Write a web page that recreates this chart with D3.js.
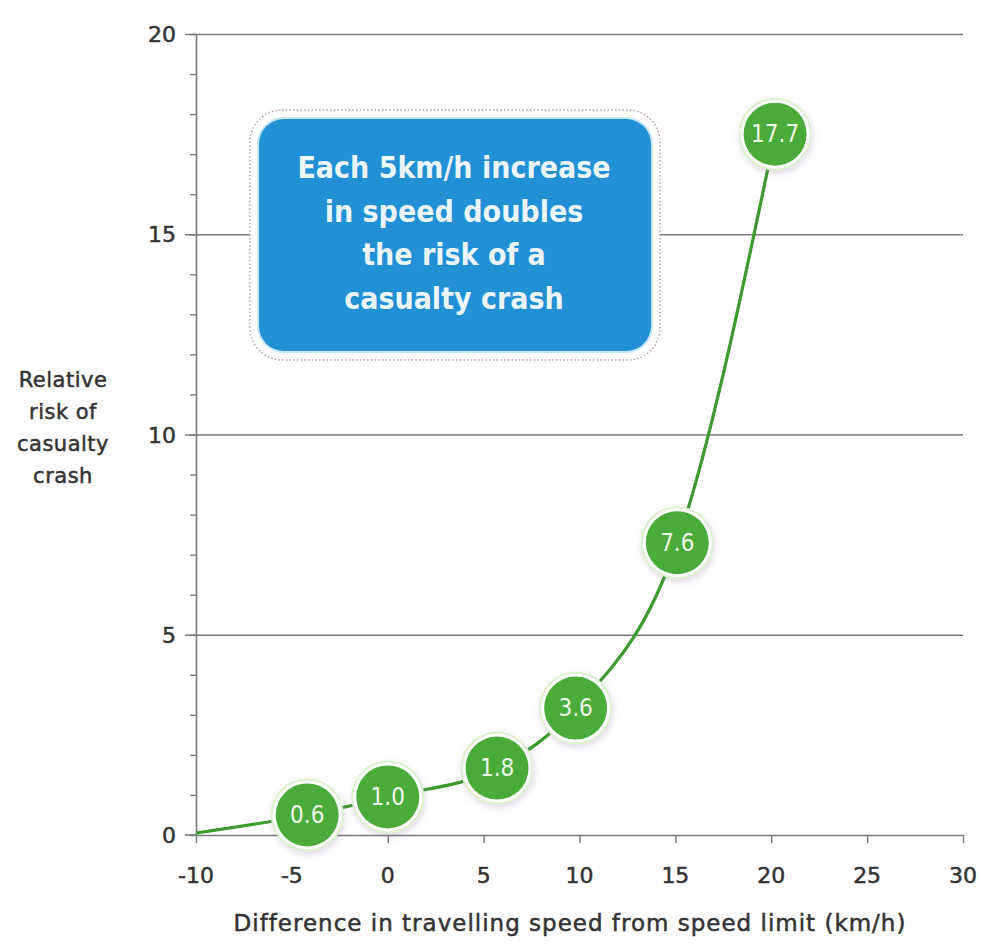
<!DOCTYPE html>
<html>
<head>
<meta charset="utf-8">
<script src="https://cdn.jsdelivr.net/npm/d3@7"></script>
<style>
  body { margin: 0; background: #fff; }
  svg { display: block; }
</style>
</head>
<body>
<div id="chart"></div>
<script>
// values
var speedTicks = [-10, -5, 0, 5, 10, 15, 20, 25, 30];
var riskTicks = [0, 5, 10, 15, 20];
var pointX = [-4.2, 0, 5.7, 9.8, 15.1, 20.2];
var pointY = [0.5, 0.95, 1.67, 3.17, 7.3, 17.5];
var pointLabels = ["0.6", "1.0", "1.8", "3.6", "7.6", "17.7"];
var lineX = [-10, -4.2, 0, 5.7, 9.8, 15.1, 20.2];
var lineY = [0.05, 0.5, 0.95, 1.67, 3.17, 7.3, 17.5];
var noteLines = ["Each 5km/h increase", "in speed doubles", "the risk of a", "casualty crash"];
var yTitle = ["Relative", "risk of", "casualty", "crash"];
var xTitle = "Difference in travelling speed from speed limit (km/h)";

var width = 981, height = 945;
var font = "'DejaVu Sans', sans-serif";
var fontCond = "'DejaVu Sans Condensed', 'DejaVu Sans', sans-serif";
var textCol = "#333";
var axisCol = "#7a7a7a";

var svg = d3.select("#chart").append("svg")
  .attr("width", width).attr("height", height);

var defs = svg.append("defs");
var shadow = defs.append("filter").attr("id", "shadow")
  .attr("x", "-30%").attr("y", "-30%").attr("width", "160%").attr("height", "160%");
shadow.append("feDropShadow").attr("dx", 1).attr("dy", 3).attr("stdDeviation", 3)
  .attr("flood-color", "#8a6a9a").attr("flood-opacity", 0.25);

var x = d3.scaleLinear().domain([-10, 30]).range([196, 963]);
var y = d3.scaleLinear().domain([0, 20]).range([835, 34]);

// gridlines at major values
var grid = svg.append("g").attr("transform", "translate(963,0)")
  .call(d3.axisLeft(y).tickValues(riskTicks.slice(1)).tickSize(963 - 185).tickFormat(""));
grid.select(".domain").remove();
grid.selectAll("line").attr("stroke", axisCol).attr("stroke-width", 1.6);

// y axis with minor ticks
var yAxis = svg.append("g").attr("transform", "translate(196,0)")
  .call(d3.axisLeft(y).ticks(20).tickSize(6).tickFormat("").tickSizeOuter(0));
yAxis.select(".domain").attr("stroke", axisCol).attr("stroke-width", 1.6);
yAxis.selectAll("line").attr("stroke", axisCol).attr("stroke-width", 1.4);
yAxis.append("line").attr("x1", -11).attr("x2", 0).attr("y1", y(0)).attr("y2", y(0))
  .attr("stroke", axisCol).attr("stroke-width", 1.6);

function heavy(sel) {
  return sel.attr("stroke", textCol).attr("stroke-width", 0.5);
}

heavy(svg.append("g").selectAll("text").data(riskTicks).enter().append("text")
  .attr("x", 176).attr("y", function(d) { return y(d) + 8; })
  .attr("text-anchor", "end").attr("font-family", font).attr("font-size", "22px")
  .attr("fill", textCol).text(function(d) { return d; }));

// x axis
var xAxis = svg.append("g").attr("transform", "translate(0," + y(0) + ")")
  .call(d3.axisBottom(x).tickValues(speedTicks).tickSize(8).tickFormat("").tickSizeOuter(0));
xAxis.select(".domain").attr("stroke", axisCol).attr("stroke-width", 1.6);
xAxis.selectAll("line").attr("stroke", axisCol).attr("stroke-width", 1.4);

heavy(svg.append("g").selectAll("text").data(speedTicks).enter().append("text")
  .attr("x", function(d) { return x(d); }).attr("y", 883)
  .attr("text-anchor", "middle").attr("font-family", font).attr("font-size", "22px")
  .attr("fill", textCol).text(function(d) { return d; }));

heavy(svg.append("text").attr("x", 570).attr("y", 931)
  .attr("text-anchor", "middle").attr("font-family", font).attr("font-size", "23px")
  .attr("letter-spacing", "1px")
  .attr("fill", textCol).text(xTitle));

heavy(svg.append("g").selectAll("text").data(yTitle).enter().append("text")
  .attr("x", 63).attr("y", function(d, i) { return 387 + i * 32; })
  .attr("text-anchor", "middle").attr("font-family", font).attr("font-size", "21px")
  .attr("letter-spacing", "0.5px")
  .attr("fill", textCol).text(function(d) { return d; }));

// annotation box
var note = svg.append("g");
note.append("rect").attr("x", 250).attr("y", 110).attr("width", 410).attr("height", 250)
  .attr("rx", 32).attr("fill", "#fff").attr("stroke", "#b59c9c")
  .attr("stroke-width", 1.4).attr("stroke-dasharray", "1.5,2.2");
note.append("rect").attr("x", 257).attr("y", 117).attr("width", 396).attr("height", 236)
  .attr("rx", 27).attr("fill", "#c4e6f7");
note.append("rect").attr("x", 259).attr("y", 119).attr("width", 392).attr("height", 232)
  .attr("rx", 25).attr("fill", "#2190d5");
note.selectAll(".note").data(noteLines).enter().append("text")
  .attr("x", 454).attr("y", function(d, i) { return 178 + i * 43.5; })
  .attr("text-anchor", "middle").attr("font-family", fontCond).attr("font-weight", "bold")
  .attr("font-size", "30px").attr("fill", "#eaf6fc").text(function(d) { return d; });

// curve
var pts = lineX.map(function(d, i) { return [d, lineY[i]]; });
var line = d3.line().x(function(d) { return x(d[0]); }).y(function(d) { return y(d[1]); })
  .curve(d3.curveMonotoneX);
svg.append("path").datum(pts).attr("d", line)
  .attr("fill", "none").attr("stroke", "#3c9a2e").attr("stroke-width", 3.2);

// markers
var marks = svg.append("g").selectAll("g").data(pointX).enter().append("g")
  .attr("transform", function(d, i) { return "translate(" + x(d) + "," + y(pointY[i]) + ")"; });
marks.append("circle").attr("r", 36.5).attr("fill", "#dcf1cf").attr("filter", "url(#shadow)");
marks.append("circle").attr("r", 34.5).attr("fill", "#fff");
marks.append("circle").attr("r", 31.5).attr("fill", "#4aab3b");
marks.append("text").attr("y", 8).attr("text-anchor", "middle")
  .attr("font-family", fontCond).attr("font-size", "24px").attr("fill", "#eef8e6")
  .text(function(d, i) { return pointLabels[i]; });
</script>
</body>
</html>
